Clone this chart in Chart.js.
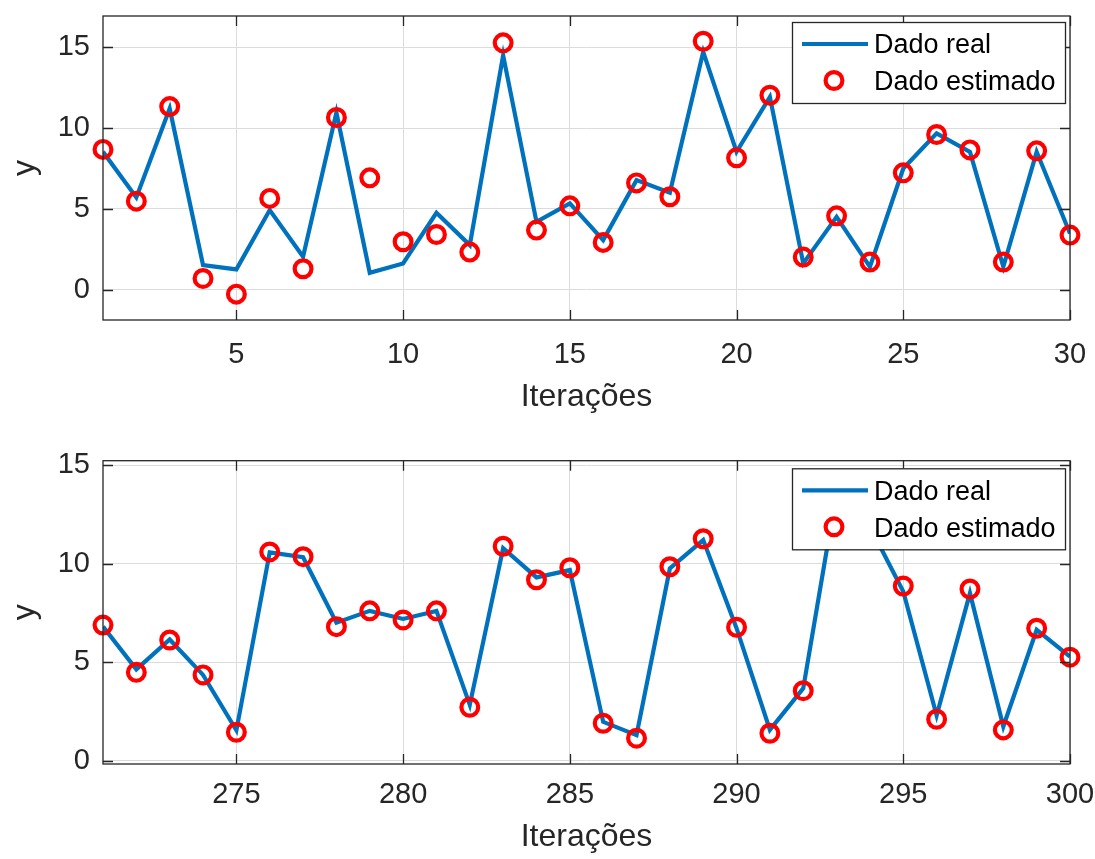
<!DOCTYPE html>
<html>
<head>
<meta charset="utf-8">
<script src="https://cdn.jsdelivr.net/npm/chart.js@4.4.1/dist/chart.umd.min.js"></script>
<style>
  html, body { margin: 0; padding: 0; background: #fff; }
  #wrap { position: relative; width: 1095px; height: 859px; }
  canvas { position: absolute; left: 0; }
  #topChart { top: 0; }
  #bottomChart { top: 430px; }
</style>
</head>
<body>
<div id="wrap">
  <canvas id="topChart" width="1095" height="430"></canvas>
  <canvas id="bottomChart" width="1095" height="429"></canvas>
</div>
<script>
// first window of iterations
const iterTop = [1, 2, 3, 4, 5, 6, 7, 8, 9, 10, 11, 12, 13, 14, 15,
                 16, 17, 18, 19, 20, 21, 22, 23, 24, 25, 26, 27, 28, 29, 30];
const realTop = [8.53, 5.71, 11.21, 1.53, 1.26, 4.93, 2.04, 10.96, 1.05, 1.63,
                 4.76, 2.76, 14.5, 4.2, 5.34, 3.07, 6.78, 6.0, 14.71, 8.53,
                 11.93, 1.63, 4.51, 1.42, 7.5, 9.67, 8.53, 1.42, 8.53, 3.48];
const estTop = [8.68, 5.48, 11.33, 0.70, -0.27, 5.65, 1.30, 10.65, 6.92, 2.97,
                3.42, 2.33, 15.27, 3.69, 5.19, 2.93, 6.61, 5.75, 15.37, 8.16,
                12.03, 2.02, 4.57, 1.71, 7.23, 9.6, 8.65, 1.71, 8.59, 3.38];

// last window of iterations
const iterBottom = [271, 272, 273, 274, 275, 276, 277, 278, 279, 280, 281, 282, 283, 284, 285,
                    286, 287, 288, 289, 290, 291, 292, 293, 294, 295, 296, 297, 298, 299, 300];
const realBottom = [6.80, 4.63, 6.15, 4.35, 1.54, 10.57, 10.32, 7.0, 7.6, 7.19,
                    7.6, 2.83, 10.78, 9.3, 9.67, 1.97, 1.29, 9.75, 11.19, 6.72,
                    1.56, 3.67, 13.63, 11.87, 8.58, 2.29, 8.5, 1.73, 6.64, 5.28];
const estBottom = [6.88, 4.48, 6.12, 4.35, 1.44, 10.59, 10.35, 6.80, 7.60, 7.14,
                   7.60, 2.71, 10.88, 9.18, 9.79, 1.9, 1.14, 9.84, 11.26, 6.77,
                   1.39, 3.55, 13.6, 11.9, 8.86, 2.1, 8.71, 1.56, 6.72, 5.25];

const xTicksTop = [5, 10, 15, 20, 25, 30];
const xTicksBottom = [275, 280, 285, 290, 295, 300];
const yTicks = [0, 5, 10, 15];
const seriesNames = ['Dado real', 'Dado estimado'];

const BLUE = '#0072BD';
const RED = '#FF0000';
const AXIS = '#262626';
const GRID = '#dcdcdc';
const FONT = '"Liberation Sans", Arial, Helvetica, sans-serif';

function drawLegend(chart, topOffset) {
  const {ctx, chartArea: a} = chart;
  const w = 273, h = 81;
  const left = a.right - 5 - w;
  const top = a.top + topOffset;
  const [line, marks] = chart.data.datasets;

  ctx.save();
  ctx.fillStyle = '#fff';
  ctx.fillRect(left, top, w, h);
  ctx.strokeStyle = AXIS;
  ctx.lineWidth = 1.3;
  ctx.strokeRect(left + 0.5, top + 0.5, w, h);

  ctx.strokeStyle = line.borderColor;
  ctx.lineWidth = line.borderWidth;
  ctx.beginPath();
  ctx.moveTo(left + 10, top + 22);
  ctx.lineTo(left + 76, top + 22);
  ctx.stroke();

  ctx.strokeStyle = marks.pointBorderColor;
  ctx.lineWidth = marks.pointBorderWidth;
  ctx.beginPath();
  ctx.arc(left + 42, top + 58.5, marks.pointRadius, 0, Math.PI * 2);
  ctx.stroke();

  ctx.fillStyle = '#000';
  ctx.font = '27px ' + FONT;
  ctx.textBaseline = 'middle';
  ctx.textAlign = 'left';
  ctx.fillText(line.label, left + 82, top + 24);
  ctx.fillText(marks.label, left + 82, top + 61);
  ctx.restore();
}

// full box with inward tick marks on all four sides, then the legend on top
const framePlugin = {
  id: 'frame',
  afterDraw(chart, args, opts) {
    const {ctx, chartArea: a, scales: {x, y}} = chart;
    const tl = 10;
    ctx.save();
    ctx.strokeStyle = AXIS;
    ctx.lineWidth = 1.3;
    ctx.beginPath();
    x.ticks.forEach(t => {
      const px = Math.round(x.getPixelForValue(t.value)) + 0.5;
      ctx.moveTo(px, a.bottom); ctx.lineTo(px, a.bottom - tl);
      ctx.moveTo(px, a.top); ctx.lineTo(px, a.top + tl);
    });
    y.ticks.forEach(t => {
      const py = Math.round(y.getPixelForValue(t.value)) + 0.5;
      ctx.moveTo(a.left, py); ctx.lineTo(a.left + tl, py);
      ctx.moveTo(a.right, py); ctx.lineTo(a.right - tl, py);
    });
    ctx.stroke();
    ctx.strokeRect(a.left, a.top, a.width, a.height);
    ctx.restore();
    drawLegend(chart, opts.legendTop);
  }
};

function makeChart(id, xs, real, est, xTicks, yMin, yMax, lay) {
  const ctx = document.getElementById(id).getContext('2d');
  return new Chart(ctx, {
    type: 'line',
    data: {
      datasets: [{
        label: seriesNames[0],
        data: xs.map((v, i) => ({x: v, y: real[i]})),
        borderColor: BLUE,
        borderWidth: 4.2,
        pointRadius: 0,
        tension: 0,
        order: 2
      }, {
        label: seriesNames[1],
        data: xs.map((v, i) => ({x: v, y: est[i]})),
        showLine: false,
        pointRadius: 8.4,
        pointBorderWidth: 4.2,
        pointBorderColor: RED,
        pointBackgroundColor: 'rgba(0,0,0,0)',
        clip: false,
        order: 1
      }]
    },
    options: {
      responsive: false,
      animation: false,
      devicePixelRatio: 1,
      layout: { padding: { top: lay.padTop, right: 25, left: 0, bottom: 0 } },
      plugins: {
        legend: { display: false },
        tooltip: { enabled: false },
        frame: { legendTop: lay.legendTop }
      },
      scales: {
        x: {
          type: 'linear',
          min: xs[0],
          max: xs[xs.length - 1],
          afterBuildTicks: s => { s.ticks = xTicks.map(v => ({value: v})); },
          afterFit: s => { s.height = lay.xHeight; s.paddingLeft = 0; s.paddingRight = 0; },
          grid: { color: GRID, lineWidth: 1, drawTicks: false },
          border: { display: false },
          ticks: {
            color: AXIS, font: { family: FONT, size: 29, lineHeight: 1.2 },
            padding: lay.tickPad, maxRotation: 0, autoSkip: false
          },
          title: {
            display: true, text: 'Iterações', color: AXIS,
            font: { family: FONT, size: 32, lineHeight: 1.2 },
            padding: { top: 0, bottom: lay.titlePad }
          }
        },
        y: {
          min: yMin,
          max: yMax,
          afterBuildTicks: s => { s.ticks = yTicks.map(v => ({value: v})); },
          afterFit: s => { s.width = 103; s.paddingTop = 0; s.paddingBottom = 0; },
          grid: { color: GRID, lineWidth: 1, drawTicks: false },
          border: { display: false },
          ticks: {
            color: AXIS, font: { family: FONT, size: 29, lineHeight: 1.2 },
            padding: 13
          },
          title: {
            display: true, text: 'y', color: AXIS,
            font: { family: FONT, size: 32, lineHeight: 1.2 },
            padding: { top: 6, bottom: 0 }
          }
        }
      }
    },
    plugins: [framePlugin]
  });
}

makeChart('topChart', iterTop, realTop, estTop, xTicksTop, -1.87, 16.93,
  { padTop: 16, xHeight: 110, tickPad: 17.6, titlePad: 13.8, legendTop: 6 });
makeChart('bottomChart', iterBottom, realBottom, estBottom, xTicksBottom, -0.17, 15.22,
  { padTop: 30.7, xHeight: 95, tickPad: 13.6, titlePad: 3.1, legendTop: 7.6 });
</script>
</body>
</html>
